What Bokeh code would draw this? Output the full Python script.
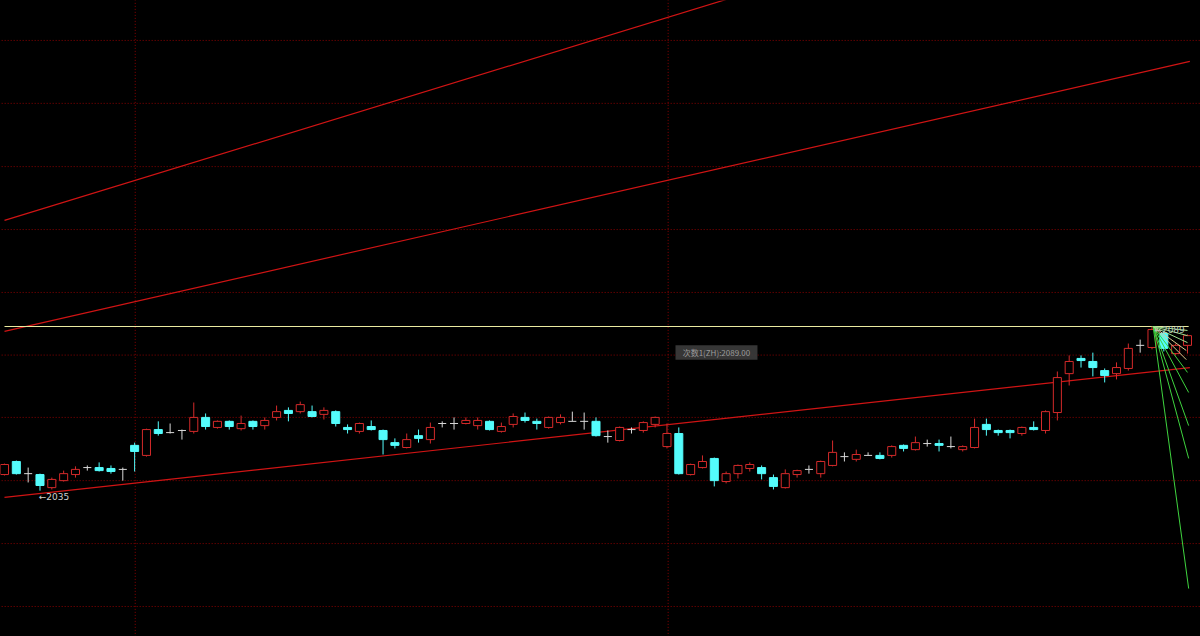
from bokeh.plotting import figure
from bokeh.models import Range1d, ColumnDataSource
from bokeh.core.properties import value
from bokeh.embed import file_html
from bokeh.resources import INLINE

# ---- candle data (index = trading day) ----
opens = [2040.3, 2044.6, 2040.6, 2040.3, 2036.0, 2038.3, 2040.3, 2042.6, 2042.6, 2042.3,
         2042.0, 2049.9, 2046.6, 2055.1, 2054.1, 2054.8, 2054.5, 2059.1, 2055.8, 2057.8,
         2055.4, 2057.8, 2056.4, 2059.1, 2061.4, 2061.0, 2061.0, 2060.1, 2061.0, 2055.8,
         2054.5, 2056.1, 2054.8, 2050.8, 2049.2, 2053.1, 2051.8, 2057.1, 2057.1, 2057.1,
         2056.4, 2057.8, 2054.5, 2056.8, 2059.1, 2057.8, 2055.8, 2057.4, 2057.8, 2057.8,
         2057.8, 2052.8, 2051.5, 2055.1, 2054.8, 2056.8, 2049.5, 2053.8, 2040.3, 2042.6,
         2045.6, 2038.0, 2040.6, 2042.3, 2042.6, 2039.3, 2036.0, 2040.3, 2042.0, 2040.6,
         2043.3, 2046.2, 2045.3, 2046.6, 2046.6, 2046.6, 2049.9, 2048.5, 2050.5, 2050.5,
         2049.5, 2048.5, 2049.2, 2056.8, 2054.8, 2054.8, 2053.8, 2055.8, 2054.8, 2060.7,
         2073.5, 2078.5, 2077.5, 2074.5, 2073.5, 2075.2, 2082.8, 2082.1, 2086.7, 2080.1,
         2082.8]
closes = [2043.6, 2040.6, 2040.6, 2036.7, 2038.7, 2040.6, 2042.0, 2042.6, 2041.6, 2041.3,
          2042.0, 2047.9, 2055.1, 2053.8, 2054.1, 2054.8, 2059.1, 2056.1, 2057.8, 2056.1,
          2057.1, 2056.1, 2058.1, 2061.0, 2060.4, 2063.3, 2059.4, 2061.4, 2057.1, 2055.1,
          2057.1, 2055.1, 2051.8, 2049.9, 2051.8, 2052.2, 2055.8, 2057.1, 2057.1, 2058.1,
          2058.1, 2055.1, 2056.1, 2059.4, 2058.1, 2057.1, 2059.1, 2059.1, 2057.8, 2057.8,
          2053.1, 2052.8, 2055.8, 2055.1, 2057.4, 2059.1, 2053.8, 2040.6, 2043.6, 2044.6,
          2038.3, 2040.6, 2043.3, 2043.6, 2040.6, 2036.4, 2040.6, 2041.6, 2042.0, 2044.6,
          2047.6, 2046.2, 2046.9, 2046.6, 2045.6, 2049.5, 2048.9, 2050.8, 2050.5, 2049.9,
          2049.5, 2049.5, 2055.8, 2055.1, 2054.1, 2054.1, 2055.8, 2055.1, 2061.0, 2072.2,
          2077.5, 2077.8, 2075.5, 2072.9, 2075.5, 2081.8, 2082.8, 2088.0, 2081.8, 2082.8,
          2086.0]
highs = [2043.9, 2044.9, 2042.6, 2040.6, 2039.3, 2041.6, 2043.0, 2043.3, 2044.3, 2043.3,
         2042.6, 2050.8, 2055.4, 2057.8, 2057.1, 2055.1, 2064.0, 2060.4, 2058.1, 2058.1,
         2059.7, 2058.1, 2059.1, 2063.0, 2062.4, 2064.3, 2063.0, 2062.4, 2061.4, 2056.8,
         2057.4, 2058.1, 2055.1, 2052.2, 2053.8, 2055.1, 2057.4, 2057.8, 2059.1, 2059.1,
         2059.1, 2058.1, 2057.4, 2060.4, 2060.7, 2058.7, 2059.4, 2060.1, 2061.0, 2060.7,
         2059.1, 2054.8, 2056.1, 2055.8, 2057.8, 2059.4, 2057.1, 2055.8, 2043.9, 2046.6,
         2045.9, 2041.3, 2043.6, 2044.3, 2043.3, 2040.3, 2042.0, 2041.9, 2043.3, 2044.9,
         2051.5, 2047.6, 2048.5, 2047.6, 2047.6, 2049.9, 2050.2, 2052.8, 2051.8, 2051.8,
         2052.8, 2049.9, 2058.7, 2058.7, 2055.1, 2055.1, 2056.1, 2057.8, 2061.4, 2074.2,
         2079.5, 2079.5, 2080.4, 2075.2, 2077.2, 2083.4, 2084.7, 2089.0, 2087.7, 2083.4,
         2086.4]
lows = [2040.0, 2040.3, 2037.7, 2035.0, 2035.4, 2038.0, 2039.3, 2041.6, 2041.3, 2040.6,
        2038.3, 2041.3, 2046.2, 2053.1, 2053.8, 2051.8, 2053.8, 2055.1, 2055.4, 2055.1,
        2054.8, 2055.1, 2055.1, 2058.1, 2057.8, 2060.4, 2059.1, 2058.4, 2056.1, 2053.8,
        2053.8, 2054.8, 2046.9, 2048.9, 2048.9, 2050.8, 2050.5, 2055.8, 2055.1, 2056.8,
        2055.1, 2054.8, 2054.1, 2055.8, 2057.4, 2055.1, 2055.4, 2056.8, 2057.8, 2055.1,
        2052.8, 2050.8, 2051.2, 2053.8, 2054.1, 2055.8, 2048.9, 2040.3, 2040.0, 2042.3,
        2036.4, 2037.4, 2039.0, 2041.3, 2038.7, 2035.4, 2035.7, 2039.3, 2040.6, 2039.3,
        2043.0, 2044.6, 2044.6, 2046.6, 2045.3, 2045.9, 2047.9, 2048.2, 2049.5, 2047.9,
        2048.9, 2047.9, 2048.9, 2053.1, 2053.1, 2052.2, 2053.1, 2054.8, 2053.8, 2058.1,
        2069.6, 2075.5, 2072.6, 2070.6, 2071.6, 2074.5, 2080.4, 2081.5, 2080.8, 2079.5,
        2080.1]

# ---- drawn objects ----
grid_prices = [2183.1, 2162.4, 2141.6, 2120.9, 2100.2, 2079.6, 2059.1, 2038.3, 2017.6, 1996.9]
grid_days = [11.05, 56.1]

trend_x0 = [0.0, 0.0, 0.0]
trend_y0 = [2032.8, 2087.4, 2123.9]
trend_x1 = [100.2, 100.2, 70.0]
trend_y1 = [2075.5, 2176.2, 2207.3]

high_level = 2089.0
level_x = [0.0, 100.1]

fan_origin_x = 97.1
fan_end_x = [100.1, 100.1, 100.1, 100.1, 100.0, 99.9, 99.9, 100.0, 100.0, 100.0]
fan_end_y = [2002.8, 2045.6, 2056.4, 2067.3, 2073.9, 2078.1, 2081.1, 2083.7, 2086.0, 2087.7]
fan_colors = ["#3fd43f", "#3fd43f", "#3fd43f", "#3fd43f", "#3fd43f",
              "#d8c890", "#d8c890", "#9fe08f", "#9fe08f", "#9fe08f"]

low_label = "←2035"
high_label = "←2089"
tip_text = "次数1(ZH):2089.00"

RED = "#d42a2a"
CYAN = "#54fcfc"
WHITE = "#d8d8d8"

n = len(opens)
idx = list(range(n))
up = [c > o for o, c in zip(opens, closes)]
down = [c < o for o, c in zip(opens, closes)]
colors = [RED if u else (CYAN if d else WHITE) for u, d in zip(up, down)]

p = figure(width=1200, height=636,
           x_range=Range1d(-0.338, 101.1), y_range=Range1d(1987.03, 2196.24),
           x_axis_type=None, y_axis_type=None,
           output_backend="svg", toolbar_location=None, min_border=0,
           background_fill_color="black", border_fill_color="black",
           outline_line_color=None)
p.grid.visible = False

# grid
p.segment(x0=[-1.0] * len(grid_prices), x1=[102.0] * len(grid_prices),
          y0=grid_prices, y1=grid_prices, line_color="#8a0000",
          line_dash="1 2", line_width=1)
p.segment(x0=grid_days, x1=grid_days, y0=[1980.0] * 2, y1=[2200.0] * 2,
          line_color="#8a0000", line_dash="1 2", line_width=1)

# trend lines
p.segment(x0=trend_x0, y0=trend_y0, x1=trend_x1, y1=trend_y1,
          line_color="#d01414", line_width=1.2)
p.line(x=level_x, y=[high_level, high_level], line_color="#eaeaa0", line_width=1.2)

# candles
src = ColumnDataSource(dict(x=idx, o=opens, c=closes, h=highs, l=lows, col=colors))
p.segment(x0="x", x1="x", y0="l", y1="h", line_color="col", line_width=1, source=src)

ui = [i for i in idx if up[i]]
di = [i for i in idx if down[i]]
zi = [i for i in idx if not up[i] and not down[i]]
W = 0.68
p.vbar(x=ui, width=W, top=[closes[i] for i in ui], bottom=[opens[i] for i in ui],
       fill_color="black", line_color=RED, line_width=1)
p.vbar(x=di, width=W, top=[opens[i] for i in di], bottom=[closes[i] for i in di],
       fill_color=CYAN, line_color=CYAN, line_width=1)
p.segment(x0=[i - W / 2 for i in zi], x1=[i + W / 2 for i in zi],
          y0=[opens[i] for i in zi], y1=[opens[i] for i in zi],
          line_color=WHITE, line_width=1)

# fan
p.segment(x0=[fan_origin_x] * len(fan_end_y), y0=[high_level] * len(fan_end_y),
          x1=fan_end_x, y1=fan_end_y, line_color=fan_colors, line_width=1)

# labels
lo_i = min(idx, key=lambda i: lows[i])
hi_i = max(idx, key=lambda i: highs[i])
p.text(x=[lo_i - 0.1], y=[lows[lo_i] - 0.3], text=[low_label],
       text_color="#cfcfcf", text_font_size="9px", text_font=value("DejaVu Sans"),
       text_baseline="top", text_align="left")
p.text(x=[hi_i + 0.2], y=[highs[hi_i] - 1.3], text=[high_label],
       text_color="#b8c8b8", text_font_size="9px", text_font=value("DejaVu Sans"),
       text_baseline="middle", text_align="left")

p.quad(left=[56.72], right=[63.65], top=[2082.8], bottom=[2078.1],
       fill_color="#3c3c3c", fill_alpha=0.9, line_color=None)
p.text(x=[60.18], y=[2080.45], text=[tip_text], text_color="#9c9c9c",
       text_font_size="8px", text_font=value("Noto Sans CJK SC"),
       text_baseline="middle", text_align="center")

html = file_html(p, INLINE)
html = html.replace("<head>", "<head><style>html,body{background:#000000;margin:0;overflow:hidden;}</style>", 1)
open("out.html", "w").write(html)
